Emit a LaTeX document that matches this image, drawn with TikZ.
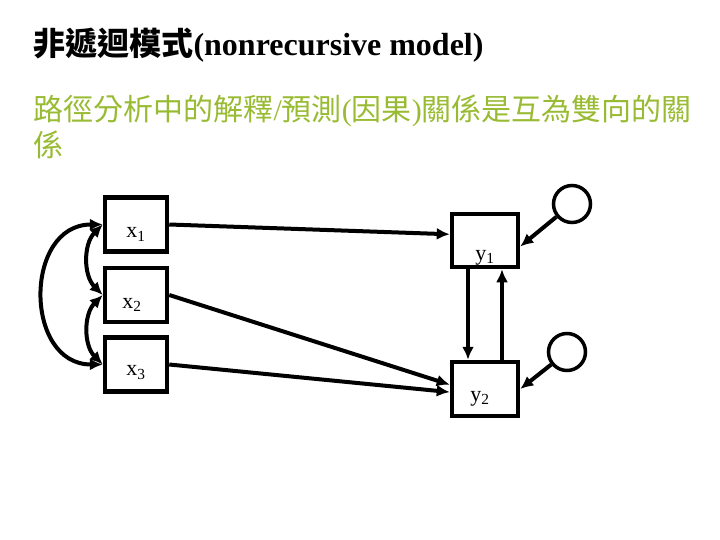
\documentclass[tikz,border=0pt]{standalone}
\usepackage{fontspec}
\setmainfont{Liberation Serif}
\newfontfamily\cjk{Noto Sans CJK TC}
\usetikzlibrary{arrows.meta}
\definecolor{leafgreen}{RGB}{153,187,51}

\begin{document}
\begin{tikzpicture}[x=1pt, y=-1pt,
    var/.style={draw, line width=4.5pt, minimum width=62pt, minimum height=54pt, inner sep=0pt},
    err/.style={draw, circle, line width=3.5pt, minimum size=37pt, inner sep=0pt},
    varlabel/.style={font=\fontsize{22}{26}\selectfont},
    pathline/.style={line width=4pt, -{Latex[length=13pt,width=12pt]}},
    corrline/.style={line width=4pt, {Latex[length=13pt,width=12pt]}-{Latex[length=13pt,width=12pt]}}]
    \useasboundingbox (0,0) rectangle (720,540);

    % Title and text
    \node[anchor=base west, font=\fontsize{32}{38}\selectfont\bfseries] (title) at (30,56)
        {{\cjk 非遞迴模式}(nonrecursive model)};
    \node[anchor=base west, align=left, text=leafgreen, font=\fontsize{30}{36}\selectfont] (desc) at (30,157)
        {{\cjk 路徑分析中的解釋}/{\cjk 預測}({\cjk 因果}){\cjk 關係是互為雙向的關}\\{\cjk 係}};

    % Exogenous variables
    \node[var, label={[varlabel, yshift=-10pt]center:x\textsubscript{1}}] (x1) at (136,224.5) {};
    \node[var, label={[varlabel, xshift=-4pt, yshift=-10pt]center:x\textsubscript{2}}] (x2) at (136,295) {};
    \node[var, label={[varlabel, yshift=-8pt]center:x\textsubscript{3}}] (x3) at (136,364.5) {};

    % Endogenous variables
    \node[var, minimum width=66pt, minimum height=53pt, label={[varlabel, yshift=-17pt]center:y\textsubscript{1}}] (y1) at (485,240.5) {};
    \node[var, minimum width=66pt, minimum height=54pt, label={[varlabel, xshift=-5pt, yshift=-10pt]center:y\textsubscript{2}}] (y2) at (485,389) {};

    % Disturbances
    \node[err] (e1) at (572,204) {};
    \node[err] (e2) at (567,352) {};

    % Correlations among x
    \draw[corrline] (x1.west) to[out=225, in=135] (x2.west);
    \draw[corrline] (x2.west) to[out=225, in=135] (x3.west);
    \draw[corrline] (x1.west) to[out=180, in=180, looseness=1.45] (x3.west);

    % Paths
    \draw[pathline] (x1.east) -- (y1.170);
    \draw[pathline] (x2.east) -- (y2.173);
    \draw[pathline] (x3.east) -- (y2.185);
    \draw[pathline] ([xshift=-17pt]y1.south) -- ([xshift=-17pt]y2.north);
    \draw[pathline] ([xshift=17pt]y2.north) -- ([xshift=17pt]y1.south);
    \draw[pathline] (e1) -- ([yshift=-6pt]y1.east);
    \draw[pathline] (e2) -- (y2.east);
\end{tikzpicture}
\end{document}
